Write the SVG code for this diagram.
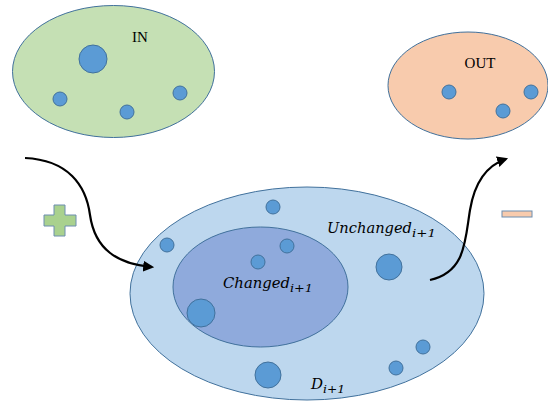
<svg xmlns="http://www.w3.org/2000/svg" width="548" height="403" viewBox="0 0 548 403">
<defs>
<style>
.dot{fill:#5b9bd5;stroke:#41719c;stroke-width:1}
.lbl{font-family:"Liberation Serif","Times New Roman",serif;font-size:15px;fill:#000}
.math{font-family:"DejaVu Serif",serif;font-style:italic;font-size:15px;fill:#000}
.sub{font-family:"DejaVu Serif",serif;font-style:italic;font-size:11px;fill:#000}
.conn{fill:none;stroke:#000;stroke-width:2.2}
</style>
<marker id="ah" viewBox="0 0 10 10" refX="8" refY="5" markerWidth="5" markerHeight="5" orient="auto">
<path d="M0,0 L10,5 L0,10 z" fill="#000"/>
</marker>
</defs>
<rect width="548" height="403" fill="#fff"/>
<g id="in">
<ellipse cx="113.5" cy="71.5" rx="101" ry="66" fill="#c5e0b4" stroke="#41719c" stroke-width="1"/>
<text class="lbl" x="140" y="42" text-anchor="middle">IN</text>
<circle class="dot" cx="93" cy="59" r="14"/>
<circle class="dot" cx="60" cy="99" r="7"/>
<circle class="dot" cx="127" cy="112" r="7"/>
<circle class="dot" cx="180" cy="93" r="7"/>
</g>
<g id="out">
<ellipse cx="468" cy="85.5" rx="80" ry="53.5" fill="#f8cbad" stroke="#41719c" stroke-width="1"/>
<text class="lbl" x="480" y="68" text-anchor="middle">OUT</text>
<circle class="dot" cx="449" cy="92" r="7"/>
<circle class="dot" cx="503" cy="111" r="7"/>
<circle class="dot" cx="531" cy="92" r="7"/>
</g>
<g id="plus">
<path d="M54,205 H65 V215 H76 V226 H65 V236 H54 V226 H44 V215 H54 Z" fill="#a9d18e" stroke="#6d8eb0" stroke-width="1"/>
</g>
<g id="minus">
<rect x="502" y="211" width="30" height="6" fill="#f8cbad" stroke="#6d8eb0" stroke-width="1"/>
</g>
<g id="d">
<ellipse cx="307" cy="293.5" rx="177" ry="106.5" fill="#bdd7ee" stroke="#41719c" stroke-width="1"/>
<circle class="dot" cx="273" cy="207" r="7"/>
<circle class="dot" cx="167" cy="245" r="7"/>
<circle class="dot" cx="389" cy="267" r="13"/>
<circle class="dot" cx="268" cy="375" r="13"/>
<circle class="dot" cx="396" cy="368" r="7"/>
<circle class="dot" cx="423" cy="347" r="7"/>
<text x="327" y="233"><tspan class="math" textLength="85" lengthAdjust="spacingAndGlyphs">Unchanged</tspan><tspan class="sub" dy="4" textLength="24" lengthAdjust="spacingAndGlyphs">i+1</tspan></text>
<text x="311" y="389"><tspan class="math">D</tspan><tspan class="sub" dy="4" textLength="22" lengthAdjust="spacingAndGlyphs">i+1</tspan></text>
</g>
<g id="changed">
<ellipse cx="260.5" cy="287" rx="87.5" ry="60" fill="#8faadc" stroke="#41719c" stroke-width="1"/>
<circle class="dot" cx="287" cy="246" r="7"/>
<circle class="dot" cx="258" cy="262" r="7"/>
<circle class="dot" cx="201" cy="313" r="14"/>
<text x="223" y="288"><tspan class="math" textLength="67" lengthAdjust="spacingAndGlyphs">Changed</tspan><tspan class="sub" dy="4" textLength="23" lengthAdjust="spacingAndGlyphs">i+1</tspan></text>
</g>
<g id="connectors">
<path class="conn" d="M25,158 C68,160 86,185 90,215 C95,250 118,264 152,267" marker-end="url(#ah)"/>
<path class="conn" d="M430,280 C466,272 465,240 470,210 C475,180 488,165 506,159" marker-end="url(#ah)"/>
</g>
</svg>
